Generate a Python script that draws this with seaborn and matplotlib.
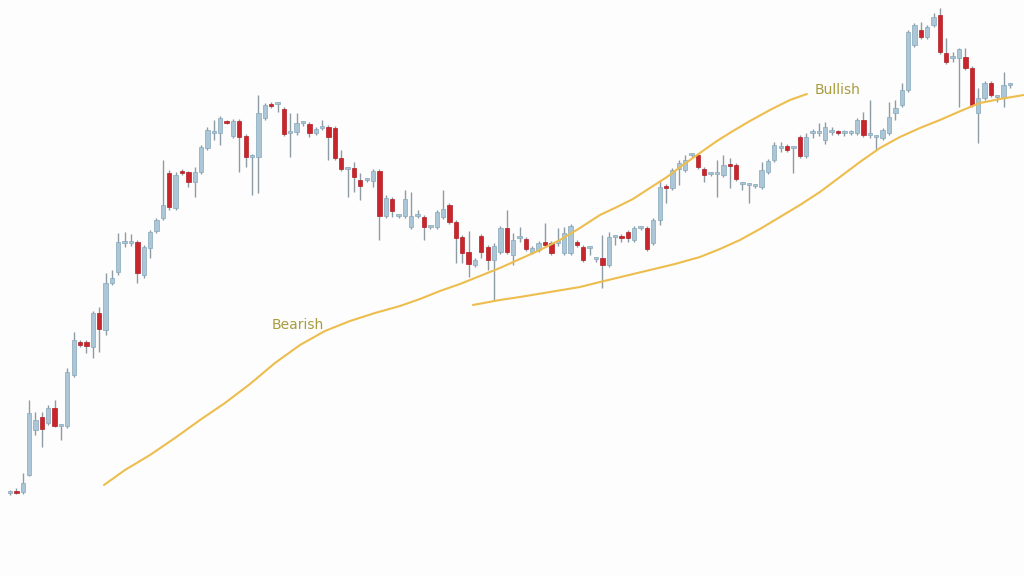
import numpy as np
import pandas as pd
import seaborn as sns
import matplotlib.pyplot as plt

# Candle data (price units)
opens = [107, 108, 108, 125, 170, 183, 177, 192, 174, 174,
         225, 258, 258, 253, 287, 270, 317, 328, 357, 357,
         358, 325, 352, 369, 382, 427, 392, 429, 428, 418,
         428, 452, 467, 467, 479, 464, 479, 464, 443, 443,
         482, 496, 496, 491, 467, 468, 477, 476, 467, 472,
         473, 472, 442, 431, 432, 420, 420, 419, 429, 384,
         401, 384, 384, 373, 384, 383, 373, 373, 383, 395,
         378, 363, 348, 335, 364, 353, 340, 348, 372, 345,
         362, 361, 348, 350, 358, 357, 357, 347, 347, 358,
         353, 352, 341, 342, 335, 363, 364, 368, 360, 372,
         372, 357, 380, 414, 412, 431, 430, 445, 445, 431,
         426, 426, 425, 436, 435, 416, 415, 414, 413, 428,
         440, 452, 454, 452, 463, 444, 467, 467, 460, 468,
         468, 467, 467, 467, 480, 465, 463, 462, 467, 487,
         495, 510, 555, 570, 563, 575, 585, 547, 542, 542,
         543, 532, 487, 502, 517, 503, 503, 515]
closes = [108, 107, 117, 187, 180, 171, 192, 174, 175, 228,
          260, 255, 254, 287, 271, 317, 322, 358, 358, 357,
          327, 353, 368, 380, 395, 393, 425, 427, 418, 428,
          453, 470, 468, 482, 477, 479, 463, 443, 444, 487,
          495, 494, 496, 466, 468, 477, 477, 467, 471, 472,
          463, 442, 431, 431, 423, 414, 420, 429, 384, 402,
          389, 384, 401, 384, 384, 373, 373, 388, 391, 378,
          362, 347, 336, 340, 348, 340, 354, 372, 348, 360,
          362, 351, 352, 357, 355, 347, 357, 367, 374, 355,
          340, 352, 341, 335, 363, 363, 362, 362, 372, 372,
          351, 380, 413, 412, 430, 437, 440, 445, 433, 425,
          426, 426, 435, 434, 421, 416, 415, 414, 430, 439,
          455, 452, 450, 452, 444, 463, 467, 467, 473, 468,
          467, 467, 467, 480, 465, 465, 463, 470, 483, 492,
          510, 568, 575, 563, 573, 583, 548, 538, 542, 551,
          532, 495, 502, 517, 505, 503, 515, 515]
highs = [110, 112, 127, 200, 188, 188, 195, 200, 176, 232,
         268, 260, 260, 289, 293, 327, 330, 367, 368, 366,
         360, 355, 370, 382, 440, 430, 428, 431, 429, 433,
         455, 473, 480, 484, 480, 481, 481, 466, 446, 505,
         497, 498, 498, 493, 487, 487, 479, 478, 473, 480,
         475, 474, 450, 433, 438, 427, 422, 431, 431, 405,
         403, 386, 410, 408, 390, 385, 375, 390, 410, 397,
         380, 365, 369, 342, 366, 355, 357, 374, 390, 367,
         373, 363, 354, 359, 377, 359, 372, 373, 376, 360,
         355, 354, 343, 365, 368, 365, 366, 370, 374, 374,
         374, 382, 420, 416, 432, 440, 445, 447, 447, 433,
         428, 440, 445, 442, 437, 418, 417, 416, 438, 441,
         458, 458, 456, 454, 465, 467, 471, 477, 478, 473,
         470, 470, 470, 482, 488, 500, 465, 472, 498, 500,
         517, 570, 577, 578, 575, 587, 592, 562, 548, 552,
         552, 534, 512, 519, 519, 505, 528, 517]
lows = [105, 106, 106, 124, 165, 153, 175, 173, 160, 172,
        223, 253, 247, 242, 248, 265, 315, 325, 353, 354,
        317, 322, 342, 367, 380, 390, 390, 425, 413, 403,
        426, 450, 460, 455, 476, 462, 428, 433, 405, 407,
        480, 492, 488, 464, 443, 465, 474, 463, 465, 470,
        440, 440, 429, 403, 408, 400, 418, 413, 360, 382,
        383, 382, 382, 371, 382, 360, 371, 371, 381, 376,
        337, 337, 323, 333, 342, 330, 300, 346, 346, 335,
        358, 349, 346, 348, 353, 345, 354, 345, 345, 353,
        338, 345, 338, 312, 333, 355, 358, 358, 358, 370,
        349, 355, 375, 397, 410, 415, 428, 443, 431, 418,
        424, 403, 423, 412, 419, 410, 397, 412, 411, 426,
        438, 448, 448, 427, 442, 442, 462, 464, 456, 465,
        465, 464, 465, 465, 463, 462, 450, 460, 465, 480,
        493, 508, 553, 561, 561, 573, 546, 536, 538, 493,
        530, 493, 457, 500, 503, 498, 493, 512]

# Trend lines (candle index, price)
bear_x = [14.76, 18.05, 21.98, 25.90, 29.83, 33.75, 37.68, 41.60, 45.53,
          49.45, 53.38, 57.30, 61.22, 64.36, 67.50, 70.64, 73.78, 76.92,
          80.06, 83.20, 86.34, 89.48, 92.62, 95.29, 97.80, 100.47, 103.14,
          105.65, 108.32, 110.99, 113.50, 116.17, 119.31, 122.45, 125.12]
bear_y = [115, 130, 145, 162, 180, 197, 216, 237, 255,
          269, 279, 287, 294, 301, 309, 316, 324, 332,
          341, 350, 360, 372, 385, 393, 401, 412, 423,
          435, 447, 459, 469, 479, 490, 500, 506]
bull_x = [72.68, 76.92, 80.06, 84.77, 89.48, 92.62, 96.55, 100.47, 104.40,
          108.32, 111.46, 114.60, 117.74, 120.88, 124.02, 127.16, 130.30,
          133.44, 136.58, 139.72, 142.86, 146.00, 149.61, 152.28, 155.42,
          159.18]
bull_y = [295, 300, 303, 308, 313, 318, 324, 330, 336,
          343, 351, 360, 371, 383, 395, 408, 423,
          438, 452, 463, 472, 480, 490, 497, 501,
          505]

df = pd.DataFrame({"open": opens, "high": highs, "low": lows, "close": closes})
df["idx"] = np.arange(len(df))
df["up"] = df["close"] >= df["open"]

sns.set_theme(style="white")
fig = plt.figure(figsize=(10.24, 5.76), dpi=100)
fig.patch.set_facecolor("#fdfdfd")
ax = fig.add_axes([0, 0, 1, 1])
ax.set_facecolor("#fdfdfd")

blue, blue_edge = "#abc6d6", "#86a7b9"
red, red_edge = "#c8262c", "#b01f25"

# Wicks
ax.vlines(df["idx"], df["low"], df["high"], color="#8d9ba4", lw=1.0, zorder=2)

# Bodies
bottom = df[["open", "close"]].min(axis=1)
height = (df["close"] - df["open"]).abs().clip(lower=1.8)
colors = np.where(df["up"], blue, red)
edges = np.where(df["up"], blue_edge, red_edge)
ax.bar(df["idx"], height, bottom=bottom, width=0.68, color=colors,
       edgecolor=edges, linewidth=0.5, zorder=3)

# Trend lines
line_clr = "#edbd4e"
sns.lineplot(x=bear_x, y=bear_y, ax=ax, color=line_clr, lw=1.5, zorder=4)
sns.lineplot(x=bull_x, y=bull_y, ax=ax, color=line_clr, lw=1.5, zorder=4)

ax.text(41.1, 275, "Bearish", color="#a89c3c", fontsize=10,
        ha="left", va="center")
ax.text(126.4, 510, "Bullish", color="#a89c3c", fontsize=10,
        ha="left", va="center")

ax.set_xlim(-1.57, 159.2)
ax.set_ylim(24, 600)
ax.axis("off")

fig.savefig("out.png", dpi=100, facecolor=fig.get_facecolor())
